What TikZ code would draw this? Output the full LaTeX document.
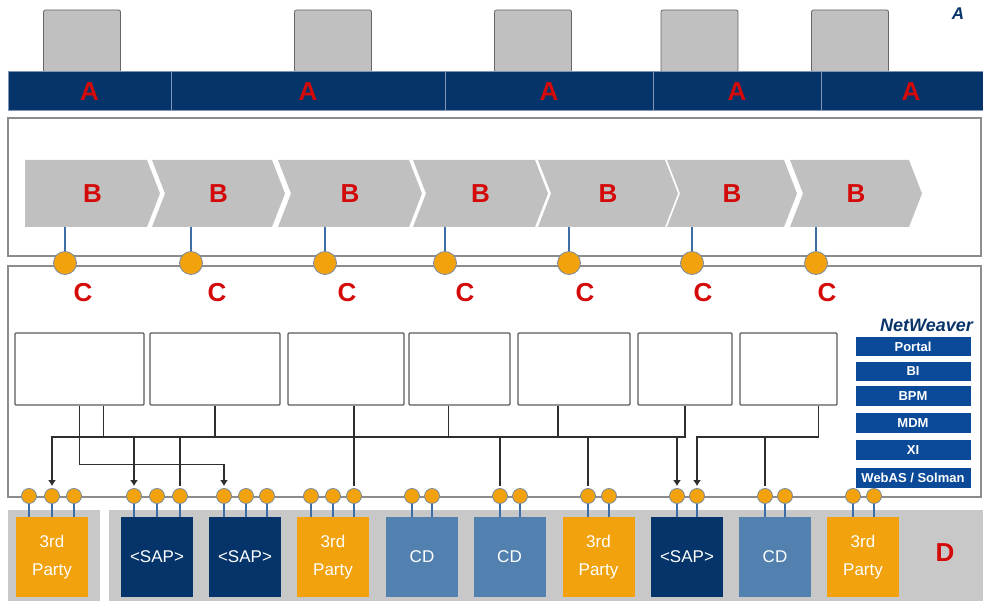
\documentclass[tikz,border=0pt]{standalone}
\usepackage{fontspec}
\setmainfont{Liberation Sans}
\usetikzlibrary{arrows.meta}
\definecolor{navy}{HTML}{04346A}
\definecolor{sapred}{HTML}{D40A0A}
\definecolor{sysgray}{HTML}{C0C0C0}
\definecolor{bandgray}{HTML}{C8C8C8}
\definecolor{seggray}{HTML}{8096B4}
\definecolor{framegray}{HTML}{8C8C8C}
\definecolor{appgray}{HTML}{5A5A5A}
\definecolor{wiregray}{HTML}{2E2E2E}
\definecolor{portorange}{HTML}{F2A20C}
\definecolor{portedge}{HTML}{7A8CA2}
\definecolor{stemblue}{HTML}{3C6EA6}
\definecolor{cdblue}{HTML}{5281B0}
\definecolor{nwblue}{HTML}{0B4A98}
\tikzset{
  sysbox/.style={draw=gray!80!black, fill=sysgray, rounded corners=2pt,
    minimum width=77, minimum height=62, inner sep=0pt, line width=0.8pt},
  lbl/.style={text=sapred, inner sep=0pt, font=\bfseries\fontsize{26}{26}\selectfont},
  seg/.style={lbl, draw=seggray, fill=navy, minimum height=39, line width=1pt},
  boxframe/.style={draw=framegray, line width=1.2pt},
  chev/.style={fill=sysgray},
  cport/.style={circle, draw=portedge, fill=portorange, minimum size=23,
    inner sep=0pt, line width=0.8pt},
  port/.style={cport, minimum size=15},
  stem/.style={draw=stemblue, line width=1.5pt},
  app/.style={draw=appgray, fill=white, minimum height=72, inner sep=0pt,
    rounded corners=1pt, line width=1.3pt},
  nwtitle/.style={text=nwblue!70!black, inner sep=0pt,
    font=\bfseries\itshape\fontsize{18}{18}\selectfont},
  nwbox/.style={fill=nwblue, text=white, minimum width=115, minimum height=19.5,
    inner sep=0pt, font=\bfseries\fontsize{13}{13}\selectfont},
  comp/.style={minimum width=72, minimum height=80, inner sep=0pt, text=white,
    align=center, font=\fontsize{17}{28}\selectfont},
  party/.style={comp, fill=portorange, node contents={3rd\\Party}},
  sap/.style={comp, fill=navy, node contents={<SAP>}},
  cd/.style={comp, fill=cdblue, node contents={CD}},
  band/.style={fill=bandgray},
  wire/.style={draw=wiregray, line width=1.6pt, shorten >=2pt},
}

\begin{document}
\begin{tikzpicture}[x=1pt,y=-1pt,>={Latex[length=6pt,width=8pt]}]
  \useasboundingbox (0,0) rectangle (983,601);
  % systems and the A bar
  \foreach \x [count=\i] in {82,333,533,699.5,850}
    \node[sysbox] (q\i) at (\x,41) {};
  \foreach \l/\r [count=\i] in {8/171,171/445,445/653,653/821,821/1001}
    \node[seg, minimum width={\r-\l}] (a\i) at ({(\l+\r)/2},91.5) {A};
  \node[nwtitle, font=\bfseries\itshape\fontsize{17}{17}\selectfont] (atag) at (958,14) {A};

  % process layer
  \draw[boxframe] (8,118) rectangle (981,256);
  \draw[boxframe] (8,266) rectangle (981,497);
  \foreach \l/\t [count=\i] in {25/160,152/285,278/422,413/548,538/678,667/797,790/922}{
    \pgfmathsetmacro\n{\i>1 ? 13 : 0}
    \fill[chev] (\l,160) -- (\t-13,160) -- (\t,193.5) -- (\t-13,227)
      -- (\l,227) coordinate (bl\i) -- (\l+\n,193.5) -- cycle;
    \node[lbl] (b\i) at ({(\l+\t)/2},193.5) {B};
  }
  \foreach \x/\lx [count=\i] in {65/83,191/217,325/347,445/465,569/585,692/703,816/827}{
    \draw[stem] (\x,263) -- (\x,227);
    \node[cport] (c\i) at (\x,263) {};
    \node[lbl] (cl\i) at (\lx,293) {C};
  }

  % applications
  \foreach \l/\r [count=\i] in {15/144,150/280,288/404,409/510,518/630,638/732,740/837}
    \node[app, minimum width={\r-\l}] (s\i) at ({(\l+\r)/2},369) {};

  % NetWeaver stack
  \node[nwtitle, anchor=east] (nw) at (973,325) {NetWeaver};
  \foreach \t/\y [count=\i] in {Portal/346.5,BI/371.5,BPM/396,MDM/423,XI/450,{WebAS / Solman}/478}
    \node[nwbox] (n\i) at (913,\y) {\t};

  % component layer
  \fill[band] (8,510) rectangle (100,601);
  \fill[band] (109,510) rectangle (983,601);
  \foreach \x/\k [count=\i] in {52/party,157/sap,245/sap,333/party,422/cd,509.5/cd,598.5/party,687/sap,775/cd,863/party}
    \node (d\i) at (\x,557) [\k];
  \node[lbl] (dl) at (945,553) {D};

  % ports
  \foreach \x [count=\i] in {29,52,74,134,157,180,224,246,267,311,333,354,412,432,500,520,588,609,677,697,765,785,853,874}
    \node[port] (p\i) at (\x,496) {};
  \foreach \p/\d in {1/1,2/1,3/1,4/2,5/2,6/2,7/3,8/3,9/3,10/4,11/4,12/4,13/5,14/5,15/6,16/6,17/7,18/7,19/8,20/8,21/9,22/9,23/10,24/10}
    \draw[stem] (p\p.south) -- (p\p.south |- d\d.north);

  % wiring
  \coordinate (bus) at (0,437);
  \draw[wire,->] (s6.south) |- (p2 |- bus) -- (p2.north);
  \draw[wire] ([xshift=24]s1.south) -- ++(0,32);
  \draw[wire,->] (s1.south) -- ++(0,59) -| (p7.north);
  \draw[wire] (s2.south) -- ++(0,32);
  \draw[wire] (s3.south -| p12) -- (p12.north);
  \draw[wire] ([xshift=-11]s4.south) -- ++(0,32);
  \draw[wire] ([xshift=-16]s5.south) -- ++(0,32);
  \draw[wire,->] ([xshift=30]s7.south) |- (p20 |- bus) -- (p20.north);
  \foreach \i in {4,19}
    \draw[wire,->] (p\i |- bus) -- (p\i.north);
  \foreach \i in {6,15,17,21}
    \draw[wire] (p\i |- bus) -- (p\i.north);
\end{tikzpicture}
\end{document}
